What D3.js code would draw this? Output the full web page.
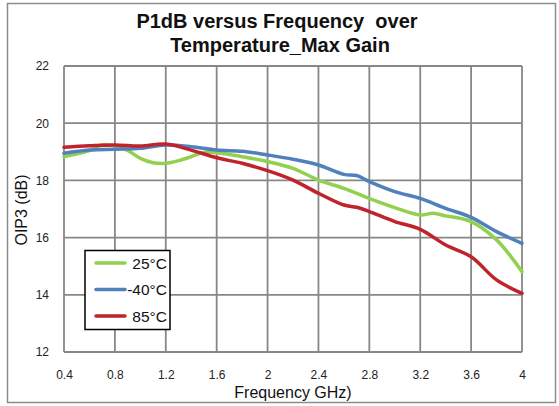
<!DOCTYPE html>
<html><head><meta charset="utf-8">
<script src="https://cdn.jsdelivr.net/npm/d3@7/dist/d3.min.js"></script>
<style>body{margin:0;background:#fff}svg{display:block}text{font-family:"Liberation Sans",Arial,sans-serif}</style>
</head><body>
<svg id="c" width="559" height="406"></svg>
<script>
const titleLines = ["P1dB versus Frequency  over", "Temperature_Max Gain"];
const xTicks = [0.4, 0.8, 1.2, 1.6, 2, 2.4, 2.8, 3.2, 3.6, 4];
const yTicks = [12, 14, 16, 18, 20, 22];
const seriesNames = ["25°C", "-40°C", "85°C"];
const seriesColors = ["#92D050", "#4F81BD", "#C0232B"];
const freq25 = [0.4,0.6,0.7,0.8,0.9,1.0,1.1,1.2,1.3,1.4,1.5,1.6,1.8,2.0,2.2,2.4,2.6,2.8,3.0,3.2,3.3,3.4,3.6,3.8,4.0];
const val25  = [18.83,19.04,19.25,19.2,19.05,18.77,18.62,18.6,18.69,18.83,18.98,18.97,18.83,18.66,18.42,18.01,17.72,17.37,17.05,16.79,16.85,16.76,16.56,15.92,14.81];
const freqM40 = [0.4,0.6,0.8,1.0,1.2,1.4,1.6,1.8,2.0,2.2,2.4,2.6,2.7,2.8,3.0,3.2,3.4,3.6,3.8,4.0];
const valM40  = [18.95,19.06,19.09,19.12,19.24,19.18,19.06,19.02,18.89,18.74,18.54,18.21,18.17,17.96,17.61,17.37,17.02,16.71,16.21,15.8];
const freq85 = [0.4,0.6,0.8,1.0,1.2,1.4,1.6,1.8,2.0,2.2,2.4,2.6,2.7,2.8,3.0,3.2,3.4,3.6,3.8,4.0];
const val85  = [19.16,19.21,19.24,19.2,19.27,19.06,18.79,18.6,18.34,18.01,17.55,17.14,17.06,16.91,16.56,16.29,15.74,15.33,14.52,14.05];

const svg = d3.select("#c");
const m = {l:64, r:522, t:66, b:352};
const x = d3.scaleLinear().domain([0.4, 4]).range([m.l, m.r]);
const y = d3.scaleLinear().domain([12, 22]).range([m.b, m.t]);

svg.append("rect").attr("x",7.5).attr("y",3.5).attr("width",548).attr("height",399)
  .attr("fill","#fff").attr("stroke","#8c8c8c").attr("stroke-width",1.5);

const grid = "#878787";
svg.append("g").selectAll("line").data(xTicks).join("line")
  .attr("x1",d=>x(d)).attr("x2",d=>x(d)).attr("y1",m.t).attr("y2",m.b)
  .attr("stroke",grid).attr("stroke-width",1.8);
svg.append("g").selectAll("line").data(yTicks).join("line")
  .attr("y1",d=>y(d)).attr("y2",d=>y(d)).attr("x1",m.l).attr("x2",m.r)
  .attr("stroke",grid).attr("stroke-width",1.8);

const xa = svg.append("g").attr("transform",`translate(0,${m.b+15})`)
  .call(d3.axisBottom(x).tickValues(xTicks).tickSize(0).tickFormat(d=>String(d)));
xa.select(".domain").remove();
xa.selectAll("text").attr("font-size",12).attr("fill","#222").attr("font-family","Liberation Sans, Arial, sans-serif");
const ya = svg.append("g").attr("transform",`translate(${m.l-12},0)`)
  .call(d3.axisLeft(y).tickValues(yTicks).tickSize(0).tickFormat(d=>String(d)));
ya.select(".domain").remove();
ya.selectAll("text").attr("font-size",12).attr("fill","#222").attr("font-family","Liberation Sans, Arial, sans-serif");

svg.append("text").attr("x",277).attr("y",28).attr("text-anchor","middle").attr("xml:space","preserve")
  .style("white-space","pre")
  .attr("font-size",20).attr("font-weight","bold").attr("fill","#111").text(titleLines[0]);
svg.append("text").attr("x",280).attr("y",52).attr("text-anchor","middle")
  .attr("font-size",20).attr("font-weight","bold").attr("fill","#111").text(titleLines[1]);
svg.append("text").attr("x",293).attr("y",398).attr("text-anchor","middle")
  .attr("font-size",16).attr("fill","#111").text("Frequency GHz)");
svg.append("text").attr("transform","translate(27,210) rotate(-90)").attr("text-anchor","middle")
  .attr("font-size",16).attr("fill","#111").text("OIP3 (dB)");

const series = [
  {f:freq25, v:val25},
  {f:freqM40, v:valM40},
  {f:freq85, v:val85}
];
const line = d3.line().x(d=>x(d[0])).y(d=>y(d[1])).curve(d3.curveCatmullRom.alpha(0.5));
series.forEach((s,i)=>{
  svg.append("path").datum(s.f.map((f,j)=>[f,s.v[j]]))
    .attr("d",line).attr("fill","none").attr("stroke",seriesColors[i])
    .attr("stroke-width",3.5).attr("stroke-linejoin","round").attr("stroke-linecap","round");
});

const lg = svg.append("g");
lg.append("rect").attr("x",85).attr("y",250.5).attr("width",85).attr("height",79)
  .attr("fill","#fff").attr("stroke","#000").attr("stroke-width",1.5);
seriesNames.forEach((n,i)=>{
  const yy = 263 + i*26.5;
  lg.append("line").attr("x1",96).attr("x2",125).attr("y1",yy).attr("y2",yy)
    .attr("stroke",seriesColors[i]).attr("stroke-width",3.5).attr("stroke-linecap","round");
  lg.append("text").attr("x",167).attr("y",yy+5.5).attr("text-anchor","end")
    .attr("font-size",15.5).attr("fill","#111").text(n);
});
</script>
</body></html>
